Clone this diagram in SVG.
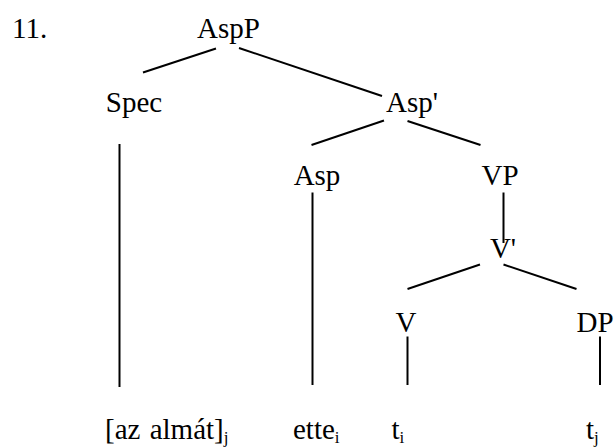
<svg xmlns="http://www.w3.org/2000/svg" width="615" height="448" viewBox="0 0 615 448">
<style>
text{font-family:"Liberation Serif","Times New Roman",serif;font-size:29px;fill:#000}
.sub{font-size:17px}
.c{text-anchor:middle}
line{stroke:#000;stroke-width:2;fill:none}
</style>
<rect width="615" height="448" fill="#fff"/>
<text x="12" y="38">11.</text>
<g id="AspP"><text class="c" x="228.5" y="38">AspP</text></g>
<g id="Spec"><text class="c" x="134" y="112">Spec</text></g>
<g id="AspBar"><text class="c" x="412" y="112">Asp'</text></g>
<g id="Asp"><text class="c" x="317" y="185">Asp</text></g>
<g id="VP"><text class="c" x="500" y="185">VP</text></g>
<g id="VBar"><text class="c" x="503" y="258">V'</text></g>
<g id="V"><text class="c" x="406" y="332">V</text></g>
<g id="DP"><text class="c" x="595" y="332">DP</text></g>
<g id="azalmat"><text x="105" y="439" word-spacing="2">[az almát]<tspan class="sub" dy="4">j</tspan></text></g>
<g id="ette"><text x="293" y="439">ette<tspan class="sub" dy="4">i</tspan></text></g>
<g id="ti"><text x="391.5" y="439">t<tspan class="sub" dy="4">i</tspan></text></g>
<g id="tj"><text x="586" y="439">t<tspan class="sub" dy="4">j</tspan></text></g>
<g id="connectors">
<line x1="216" y1="48.5" x2="143" y2="72.5"/>
<line x1="239" y1="48" x2="382" y2="96"/>
<line x1="119.5" y1="144" x2="119.5" y2="387"/>
<line x1="384" y1="120.5" x2="311.5" y2="145"/>
<line x1="407.5" y1="121" x2="480.5" y2="145"/>
<line x1="312.5" y1="192.5" x2="312.5" y2="385"/>
<line x1="503.5" y1="192.5" x2="503.5" y2="243"/>
<line x1="480" y1="264.5" x2="407.5" y2="289"/>
<line x1="503.5" y1="264.5" x2="576.5" y2="289"/>
<line x1="407.5" y1="336.5" x2="407.5" y2="385"/>
<line x1="600" y1="336.5" x2="600" y2="385"/>
</g>
</svg>
